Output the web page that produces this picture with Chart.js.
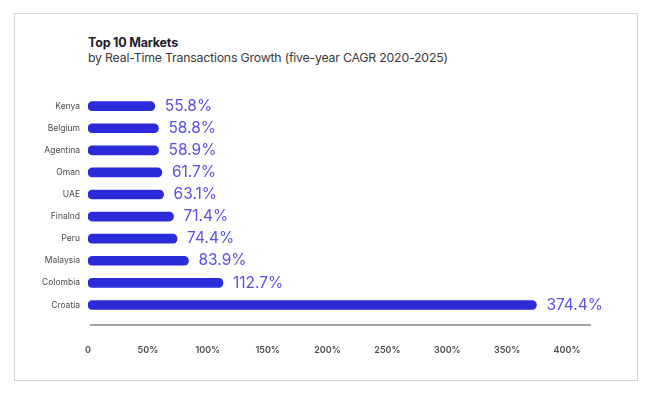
<!DOCTYPE html>
<html>
<head>
<meta charset="utf-8">
<script src="https://cdn.jsdelivr.net/npm/chart.js@4.4.0/dist/chart.umd.min.js"></script>
<style>
  body { margin: 0; background: #fff; font-family: Inter, "Noto Sans", sans-serif; }
  .frame { position: absolute; left: 14px; top: 13px; width: 622px; height: 366px; border: 1px solid #d4d4d4; }
  .title { position: absolute; left: 88px; top: 35px; color: #1d1d2b; }
  .title h1 { margin: 0; font-size: 12.5px; font-weight: 700; line-height: 15px; letter-spacing: -0.2px; }
  .title p { margin: 0; font-size: 12.3px; color: #3a3a3a; line-height: 16px; letter-spacing: -0.2px; }
  .wrap { position: absolute; left: 0; top: 90px; width: 661px; height: 271px; }
</style>
</head>
<body>
<div class="frame"></div>
<div class="title">
  <h1>Top 10 Markets</h1>
  <p>by Real-Time Transactions Growth (five-year CAGR 2020-2025)</p>
</div>
<div class="wrap"><canvas id="chart"></canvas></div>
<script>
// Chart data
const markets = ["Kenya", "Belgium", "Agentina", "Oman", "UAE", "Finalnd", "Peru", "Malaysia", "Colombia", "Croatia"];
const growth = [55.8, 58.8, 58.9, 61.7, 63.1, 71.4, 74.4, 83.9, 112.7, 374.4];
const tickValues = [0, 50, 100, 150, 200, 250, 300, 350, 400];

const BAR_COLOR = "#2b2bd9";
const LABEL_COLOR = "#5a52e6";

// value label after each bar
const valueLabels = {
  id: "valueLabels",
  afterDatasetsDraw(chart) {
    const ctx = chart.ctx;
    const meta = chart.getDatasetMeta(0);
    ctx.save();
    ctx.font = "15.5px Inter, 'Noto Sans', sans-serif";
    ctx.fillStyle = LABEL_COLOR;
    ctx.textBaseline = "middle";
    meta.data.forEach((bar, i) => {
      ctx.fillText(growth[i].toFixed(1) + "%", bar.x + 10, bar.y);
    });
    ctx.restore();
  },
};

// baseline a little below the last bar
const baseLine = {
  id: "baseLine",
  afterDraw(chart) {
    const ctx = chart.ctx;
    const x = chart.scales.x;
    const y = chart.chartArea.bottom + 9;
    ctx.save();
    ctx.strokeStyle = "#a3a3a3";
    ctx.lineWidth = 2;
    ctx.beginPath();
    ctx.moveTo(x.left + 2, y);
    ctx.lineTo(x.right, y);
    ctx.stroke();
    ctx.restore();
  },
};

new Chart(document.getElementById("chart"), {
  type: "bar",
  data: {
    labels: markets,
    datasets: [
      {
        data: growth,
        backgroundColor: BAR_COLOR,
        barThickness: 9,
        borderRadius: 5,
        borderSkipped: false,
      },
    ],
  },
  options: {
    indexAxis: "y",
    responsive: true,
    maintainAspectRatio: false,
    animation: false,
    layout: { padding: { top: 0, right: 70, left: 0, bottom: 0 } },
    scales: {
      x: {
        min: 0,
        max: 420,
        grid: { display: false },
        border: { display: false },
        afterBuildTicks: (scale) => {
          scale.ticks = tickValues.map((v) => ({ value: v }));
        },
        afterFit: (scale) => {
          scale.height = 45;
        },
        ticks: {
          padding: 21,
          maxRotation: 0,
          autoSkip: false,
          color: "#4a4a4a",
          font: { size: 9, weight: 600, family: "Inter, 'Noto Sans', sans-serif" },
          callback: (v) => (v === 0 ? "0" : v + "%"),
        },
      },
      y: {
        grid: { display: false },
        border: { display: false },
        afterFit: (scale) => {
          scale.width = 88;
        },
        ticks: {
          padding: 0,
          color: "#4a4a4a",
          font: { size: 8.5, family: "Inter, 'Noto Sans', sans-serif" },
        },
      },
    },
    plugins: {
      legend: { display: false },
      tooltip: { enabled: false },
    },
  },
  plugins: [valueLabels, baseLine],
});
</script>
</body>
</html>
